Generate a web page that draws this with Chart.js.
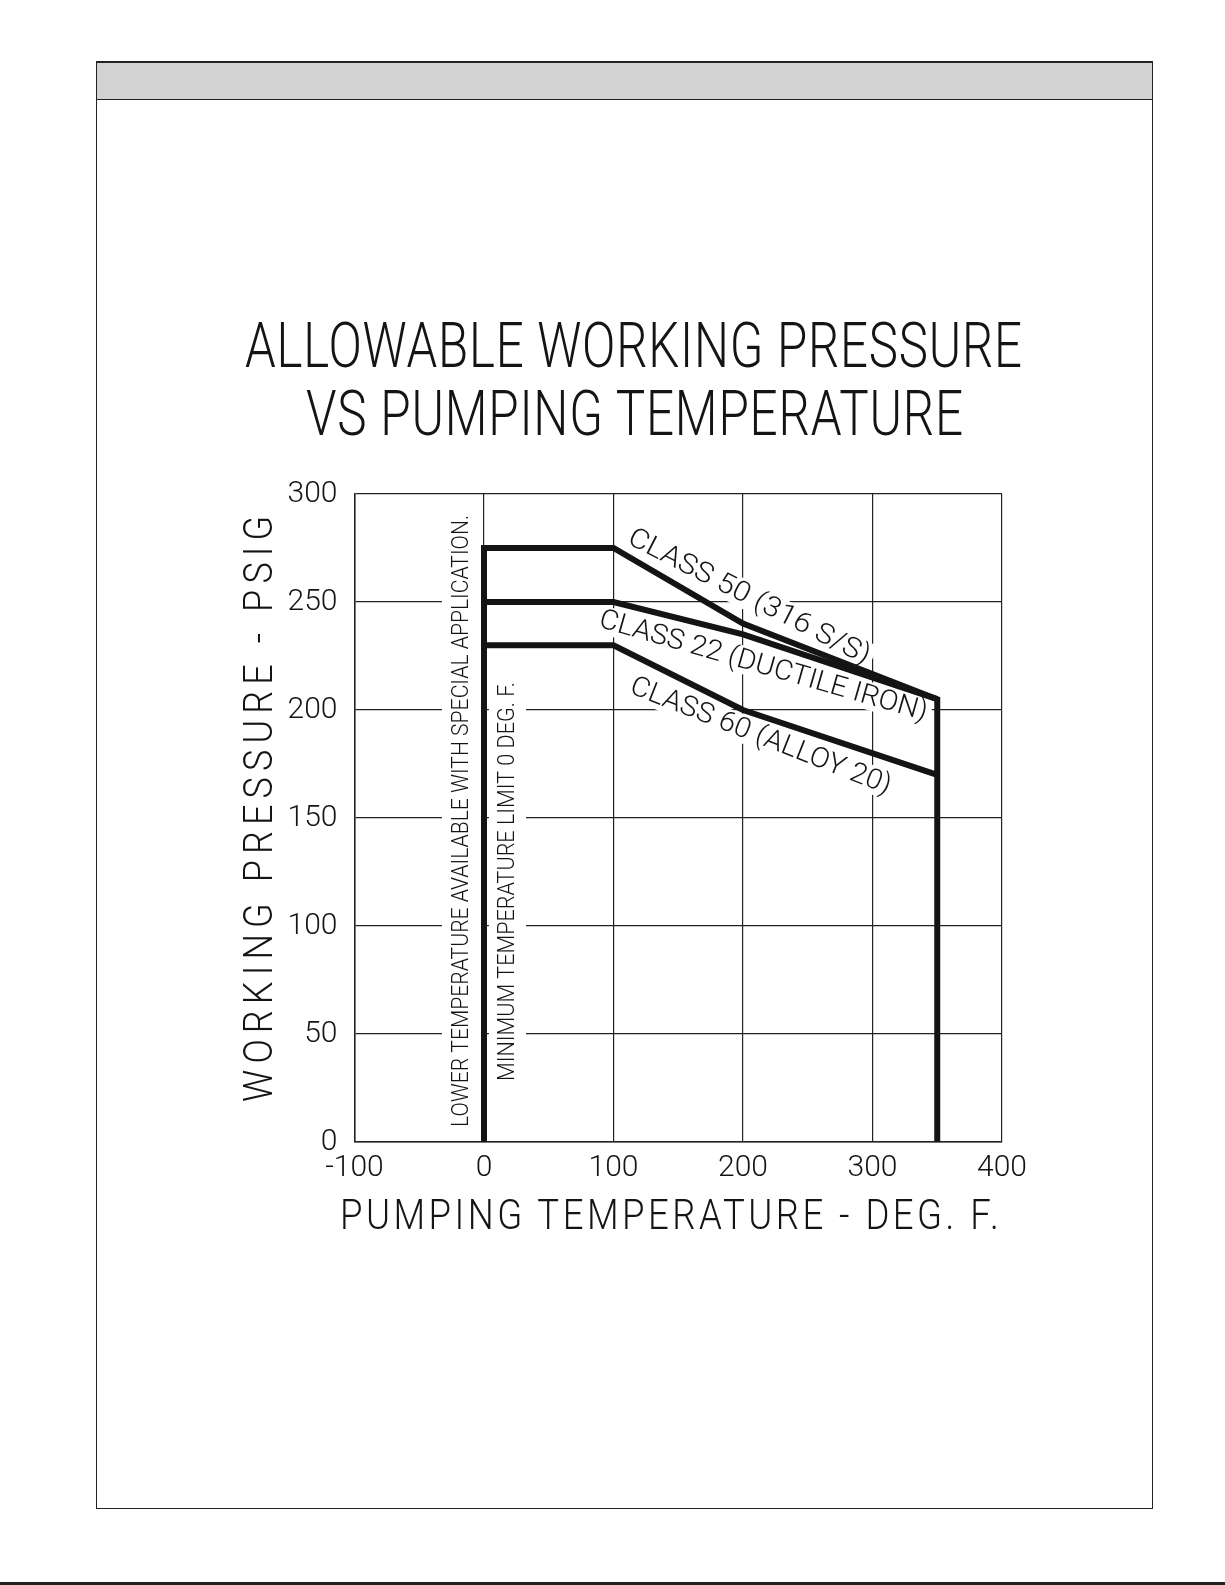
<!DOCTYPE html>
<html>
<head>
<meta charset="utf-8">
<title>Allowable Working Pressure vs Pumping Temperature</title>
<script src="https://cdn.jsdelivr.net/npm/chart.js@4.4.1/dist/chart.umd.min.js"></script>
<style>
  html, body { margin: 0; padding: 0; background: #fff; }
  body {
    width: 1225px; height: 1585px; position: relative; overflow: hidden;
    font-family: Roboto, "DejaVu Sans", sans-serif; font-weight: 300;
    color: #141414;
  }
  #frame {
    position: absolute; left: 96px; top: 61px; width: 1057px; height: 1448px;
    border: 1.5px solid #222; border-top-width: 2px; box-sizing: border-box;
  }
  #band { height: 36px; background: #d3d3d3; border-bottom: 1.5px solid #222; }
  #footline { position: absolute; left: 0; right: 0; top: 1582px; height: 2.5px; background: #222; }
  .fit { position: absolute; white-space: nowrap; transform-origin: 0 0; }
  #t1 { left: 245px; top: 314px; font-size: 63px; line-height: 63px; letter-spacing: 1px; }
  #t2 { left: 306px; top: 382px; font-size: 63px; line-height: 63px; letter-spacing: 1px; }
  #xtitle { left: 340px; top: 1194px; font-size: 42px; line-height: 42px; letter-spacing: 4px; }
  #ytitle { left: 238px; top: 1102px; font-size: 41px; line-height: 41px; letter-spacing: 7px; }
  #chart { position: absolute; left: 0; top: 0; }
</style>
</head>
<body>
<div id="frame"><div id="band"></div></div>
<div id="footline"></div>
<div class="fit" id="t1" data-len="778">ALLOWABLE WORKING PRESSURE</div>
<div class="fit" id="t2" data-len="658">VS PUMPING TEMPERATURE</div>
<canvas id="chart" width="1225" height="1585"></canvas>
<div class="fit" id="xtitle" data-len="662">PUMPING TEMPERATURE - DEG. F.</div>
<div class="fit" id="ytitle" data-len="592" data-rot="-90">WORKING PRESSURE - PSIG</div>
<script>
// pumping temperature break points, deg F
var tempF = [0, 100, 200, 350];
// allowable working pressure, psig
var class50 = [275, 275, 240, 205];
var class22 = [250, 250, 235, 205];
var class60 = [230, 230, 200, 170];

var xTicks = [-100, 0, 100, 200, 300, 400];
var yTicks = [0, 50, 100, 150, 200, 250, 300];

var FONT = 'Roboto, "DejaVu Sans", sans-serif';
var INK = '#141414';

// notes written inside the plot, anchored in data units
var notes = [
  { text: 'LOWER TEMPERATURE AVAILABLE WITH SPECIAL APPLICATION.', temp: -17.4, psig: 148.6, angle: -90, size: 24, len: 612, padAlong: 6, padAcross: 11 },
  { text: 'MINIMUM TEMPERATURE LIMIT 0 DEG. F.', temp: 18.1, psig: 120.6, angle: -90, size: 24, len: 399, padAlong: 6, padAcross: 10 },
  { text: 'CLASS 50 (316 S/S)', temp: 204.8, psig: 252.5, angle: 27, size: 28, len: 268, padAlong: 4, padAcross: 4 },
  { text: 'CLASS 22 (DUCTILE IRON)', temp: 215.7, psig: 220.5, angle: 16, size: 28, len: 340, padAlong: 4, padAcross: 4 },
  { text: 'CLASS 60 (ALLOY 20)', temp: 213.7, psig: 188, angle: 21.5, size: 28, len: 278, padAlong: 4, padAcross: 4 }
];

// squeeze or stretch the html titles to the lettering width of the drawing
document.querySelectorAll('.fit').forEach(function (el) {
  var sx = Number(el.dataset.len) / el.offsetWidth;
  var rot = el.dataset.rot ? 'rotate(' + el.dataset.rot + 'deg) ' : '';
  el.style.transform = rot + 'scaleX(' + sx + ')';
});

function toPoints(temps, vals) {
  return temps.map(function (t, i) { return { x: t, y: vals[i] }; });
}

// class 50 carries the two vertical temperature limits down to the axis
var envelope = [{ x: tempF[0], y: 0 }]
  .concat(toPoints(tempF, class50))
  .concat([{ x: tempF[tempF.length - 1], y: 0 }]);

var lineStyle = {
  showLine: true, borderColor: INK, backgroundColor: INK, borderWidth: 6,
  pointRadius: 0, pointHoverRadius: 0, tension: 0,
  borderJoinStyle: 'miter', borderCapStyle: 'butt', fill: false
};

var notesPlugin = {
  id: 'plotNotes',
  beforeDatasetsDraw: function (chart) {
    var ctx = chart.ctx, x = chart.scales.x, y = chart.scales.y;
    notes.forEach(function (n) {
      var px = x.getPixelForValue(n.temp), py = y.getPixelForValue(n.psig);
      var cap = n.size * 0.711;
      ctx.save();
      ctx.translate(px, py);
      ctx.rotate(n.angle * Math.PI / 180);
      ctx.fillStyle = '#fff';
      ctx.fillRect(-n.len / 2 - n.padAlong, -cap / 2 - n.padAcross, n.len + 2 * n.padAlong, cap + 2 * n.padAcross);
      ctx.font = '300 ' + n.size + 'px ' + FONT;
      var w = ctx.measureText(n.text).width;
      ctx.scale(n.len / w, 1);
      ctx.fillStyle = INK;
      ctx.textAlign = 'center';
      ctx.textBaseline = 'middle';
      ctx.fillText(n.text, 0, 1);
      ctx.restore();
    });
  }
};

new Chart(document.getElementById('chart'), {
  type: 'scatter',
  data: {
    datasets: [
      Object.assign({ label: 'Class 50 (316 S/S)', data: envelope }, lineStyle),
      Object.assign({ label: 'Class 22 (Ductile Iron)', data: toPoints(tempF, class22) }, lineStyle),
      Object.assign({ label: 'Class 60 (Alloy 20)', data: toPoints(tempF, class60) }, lineStyle)
    ]
  },
  options: {
    responsive: false,
    animation: false,
    events: [],
    layout: { padding: { left: 254, right: 223, top: 494, bottom: 403 } },
    plugins: { legend: { display: false }, tooltip: { enabled: false }, title: { display: false } },
    scales: {
      x: {
        type: 'linear', min: xTicks[0], max: xTicks[xTicks.length - 1],
        afterBuildTicks: function (s) { s.ticks = xTicks.map(function (v) { return { value: v }; }); },
        afterFit: function (s) { s.height = 40; },
        grid: { color: '#222', lineWidth: 1.2, drawTicks: false },
        border: { color: '#222', width: 1.5 },
        ticks: { padding: 8, color: INK, font: { family: FONT, size: 30, weight: 300 }, maxRotation: 0 }
      },
      y: {
        type: 'linear', min: yTicks[0], max: yTicks[yTicks.length - 1],
        afterBuildTicks: function (s) { s.ticks = yTicks.map(function (v) { return { value: v }; }); },
        afterFit: function (s) { s.width = 100.5; },
        grid: { color: '#222', lineWidth: 1.2, drawTicks: false },
        border: { color: '#222', width: 1.5 },
        ticks: { padding: 17, color: INK, font: { family: FONT, size: 30, weight: 300 } }
      }
    }
  },
  plugins: [notesPlugin]
});
</script>
</body>
</html>
